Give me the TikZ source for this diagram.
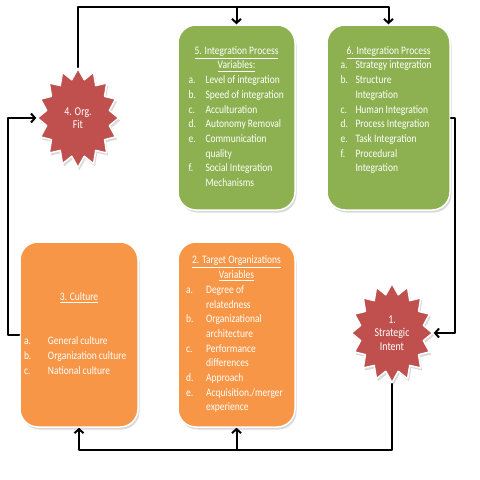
\documentclass[tikz,border=0pt]{standalone}
\usepackage{fontspec}
\setmainfont{Carlito}
\usetikzlibrary{shapes.geometric,shadows,arrows.meta}
\definecolor{boxgreen}{HTML}{8DB150}
\definecolor{boxorange}{HTML}{F79646}
\definecolor{starred}{HTML}{C0504D}
\newcommand{\ttl}[1]{\multicolumn{2}{c}{\underline{#1}}}
\newcommand{\tall}[1]{\scalebox{1}[1.2]{#1}}
\begin{document}
\begin{tikzpicture}[x=1pt,y=-1pt,>={Straight Barb[length=4pt,width=9pt]}, line width=2pt, line join=round, line cap=round,
	box/.style={draw=white, line width=1.5pt, rounded corners=18pt, minimum height=185pt, text=white, inner sep=0pt,
		font=\fontsize{9.5}{12.25}\selectfont, drop shadow={shadow xshift=1.5pt,shadow yshift=-2.5pt,opacity=0.3}},
	burst/.style={star, star points=16, star point ratio=1.27, minimum size=99pt, xscale=0.82, transform shape,
		fill=starred, draw=white, line width=1.5pt, text=white, align=center, inner sep=0pt,
		font=\fontsize{12}{13.5}\selectfont, drop shadow={shadow xshift=1.5pt,shadow yshift=-2.5pt,opacity=0.3}}]
	\useasboundingbox (0,0) rectangle (480,480);
	% corners of the loop
	\coordinate (top) at (0,7);
	\coordinate (bot) at (0,450);
	\coordinate (lft) at (8,0);
	\coordinate (rgt) at (455,0);
	% boxes
	\node[box, fill=boxgreen, minimum width=117pt] (ipv) at (236.5,117.5) {\tall{\begin{tabular}{@{}p{17pt}@{}l@{}}
		\ttl{5. Integration Process}\\
		\ttl{Variables:}\\
		a. & Level of integration\\
		b. & Speed of integration\\
		c. & Acculturation\\
		d. & Autonomy Removal\\
		e. & Communication\\
		   & quality\\
		f. & Social Integration\\
		   & Mechanisms
	\end{tabular}}};
	\node[box, fill=boxgreen, minimum width=123pt] (ip) at (388.5,117.5) {\tall{\begin{tabular}{@{}p{15pt}@{}l@{}}
		\ttl{6. Integration Process}\\
		a. & Strategy integration\\
		b. & Structure\\
		   & Integration\\
		c. & Human Integration\\
		d. & Process Integration\\
		e. & Task Integration\\
		f. & Procedural\\
		   & Integration\\
		   &
	\end{tabular}}};
	\node[box, fill=boxorange, minimum width=118pt] (cult) at (79,334.5) {\tall{\begin{tabular}{@{}p{24pt}@{}p{86pt}@{}}
		\ttl{3. Culture}\\
		& \\
		& \\
		a. & General culture\\
		b. & Organization culture\\
		c. & National culture
	\end{tabular}}};
	\node[box, fill=boxorange, minimum width=117pt] (tov) at (236.5,334.5) {\tall{\begin{tabular}{@{}p{20pt}@{}l@{}}
		\ttl{2. Target Organizations}\\
		\ttl{Variables}\\
		a. & Degree of\\
		   & relatedness\\
		b. & Organizational\\
		   & architecture\\
		c. & Performance\\
		   & differences\\
		d. & Approach\\
		e. & Acquisition./merger\\
		   & experience
	\end{tabular}}};
	% stars
	\node[burst] (fit) at (78,118) {4. Org.\\Fit};
	\node[burst] (intent) at (392,333) {1.\\Strategic\\Intent};
	% connectors
	\draw[->] (fit.north) -- (fit.north |- top) -| (ip.north);
	\draw[->] (ipv.north |- top) -- (ipv.north);
	\draw[->] (ip.east) -- (ip.east -| rgt) |- (intent.east);
	\draw[->] (intent.south) -- (intent.south |- bot) -| (cult.south);
	\draw[->] (tov.south |- bot) -- (tov.south);
	\draw[->] (cult.west) -- (cult.west -| lft) |- (fit.west);
\end{tikzpicture}
\end{document}
